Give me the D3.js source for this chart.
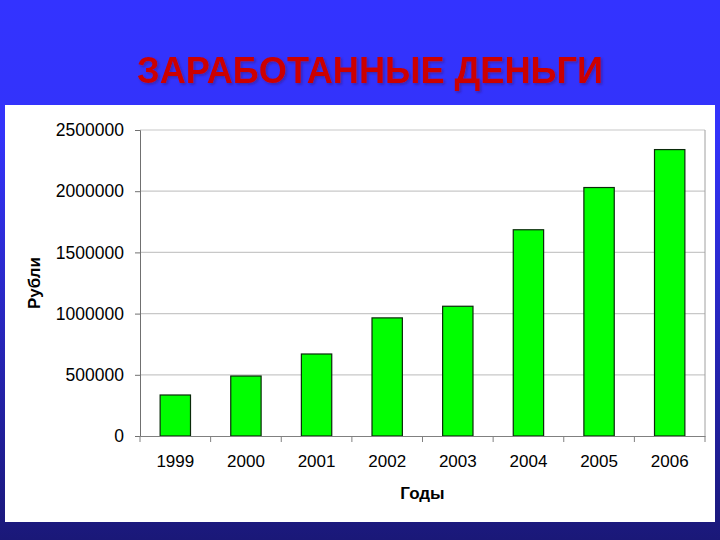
<!DOCTYPE html>
<html>
<head>
<meta charset="utf-8">
<script src="https://cdn.jsdelivr.net/npm/d3@7"></script>
<style>
    body { margin: 0; }
    svg { display: block; font-family: "Liberation Sans", Arial, sans-serif; }
</style>
</head>
<body>
<svg id="chart" width="720" height="540"></svg>
<script>
'use strict';

const years = ['1999', '2000', '2001', '2002', '2003', '2004', '2005', '2006'];
const earnings = [335000, 490000, 670000, 965000, 1060000, 1685000, 2030000, 2340000];
const yTicks = [0, 500000, 1000000, 1500000, 2000000, 2500000];

const svg = d3.select('#chart');
const defs = svg.append('defs');

// background gradient (slide)
const grad = defs.append('linearGradient')
    .attr('id', 'bg').attr('x1', 0).attr('y1', 0).attr('x2', 0).attr('y2', 1);
grad.append('stop').attr('offset', '0%').attr('stop-color', '#3333ff');
grad.append('stop').attr('offset', '25%').attr('stop-color', '#3333fa');
grad.append('stop').attr('offset', '100%').attr('stop-color', '#1a1878');

defs.append('filter').attr('id', 'shadow')
    .append('feDropShadow')
    .attr('dx', 1.5).attr('dy', 1.5).attr('stdDeviation', 1.2)
    .attr('flood-color', '#3a1060').attr('flood-opacity', 0.5);

svg.append('rect').attr('width', 720).attr('height', 540).attr('fill', 'url(#bg)');

// title
svg.append('text')
    .attr('x', 370).attr('y', 83)
    .attr('text-anchor', 'middle')
    .attr('font-size', 37).attr('font-weight', 'bold')
    .attr('textLength', 466).attr('lengthAdjust', 'spacingAndGlyphs')
    .attr('fill', '#cc0000')
    .attr('filter', 'url(#shadow)')
    .text('ЗАРАБОТАННЫЕ ДЕНЬГИ');

// white panel
svg.append('rect')
    .attr('x', 5).attr('y', 105).attr('width', 710).attr('height', 417)
    .attr('fill', '#ffffff');

const plot = { left: 140, right: 705, top: 130, bottom: 436 };

const x = d3.scaleBand()
    .domain(years)
    .range([plot.left, plot.right])
    .paddingInner(0.57).paddingOuter(0.285);

const xCat = d3.scaleBand().domain(years).range([plot.left, plot.right]);

const y = d3.scaleLinear()
    .domain([0, 2500000])
    .range([plot.bottom, plot.top]);

// gridlines
svg.append('g')
    .selectAll('line')
    .data(yTicks.slice(1))
    .join('line')
    .attr('x1', plot.left).attr('x2', plot.right)
    .attr('y1', d => y(d)).attr('y2', d => y(d))
    .attr('stroke', '#c8c8c8').attr('stroke-width', 1.2);

// right border
svg.append('line')
    .attr('x1', plot.right).attr('x2', plot.right)
    .attr('y1', plot.top).attr('y2', plot.bottom)
    .attr('stroke', '#a0a0a0');

// bars
svg.append('g')
    .selectAll('rect')
    .data(years)
    .join('rect')
    .attr('x', d => x(d))
    .attr('width', x.bandwidth())
    .attr('y', (d, i) => y(earnings[i]))
    .attr('height', (d, i) => y(0) - y(earnings[i]))
    .attr('fill', '#00ff00')
    .attr('stroke', '#0a2a0a').attr('stroke-width', 1.2);

// y axis
const yAxis = svg.append('g')
    .attr('transform', `translate(${plot.left},0)`)
    .call(d3.axisLeft(y).tickValues(yTicks).tickSize(5).tickPadding(11).tickFormat(d3.format('d')));
yAxis.select('.domain').attr('stroke', '#707070');
yAxis.selectAll('.tick line').attr('stroke', '#707070');
yAxis.selectAll('.tick text')
    .attr('font-family', '"Liberation Sans", Arial, sans-serif')
    .attr('font-size', 17.5).attr('fill', '#000');

// x axis
const xAxis = svg.append('g')
    .attr('transform', `translate(0,${plot.bottom})`)
    .call(d3.axisBottom(xCat).tickSize(0).tickPadding(19));
xAxis.select('.domain').attr('stroke', '#808080');
xAxis.selectAll('.tick text')
    .attr('font-family', '"Liberation Sans", Arial, sans-serif')
    .attr('font-size', 17).attr('fill', '#000');

// category separators below axis
svg.append('g')
    .selectAll('line')
    .data(years.concat(['end']))
    .join('line')
    .attr('x1', (d, i) => i < years.length ? xCat(d) : plot.right)
    .attr('x2', (d, i) => i < years.length ? xCat(d) : plot.right)
    .attr('y1', plot.bottom).attr('y2', plot.bottom + 6)
    .attr('stroke', '#808080');

// axis titles
svg.append('text')
    .attr('x', (plot.left + plot.right) / 2).attr('y', 499)
    .attr('text-anchor', 'middle')
    .attr('font-size', 17).attr('font-weight', 'bold')
    .text('Годы');

svg.append('text')
    .attr('transform', `translate(40,283) rotate(-90)`)
    .attr('text-anchor', 'middle')
    .attr('font-size', 17).attr('font-weight', 'bold')
    .text('Рубли');
</script>
</body>
</html>
